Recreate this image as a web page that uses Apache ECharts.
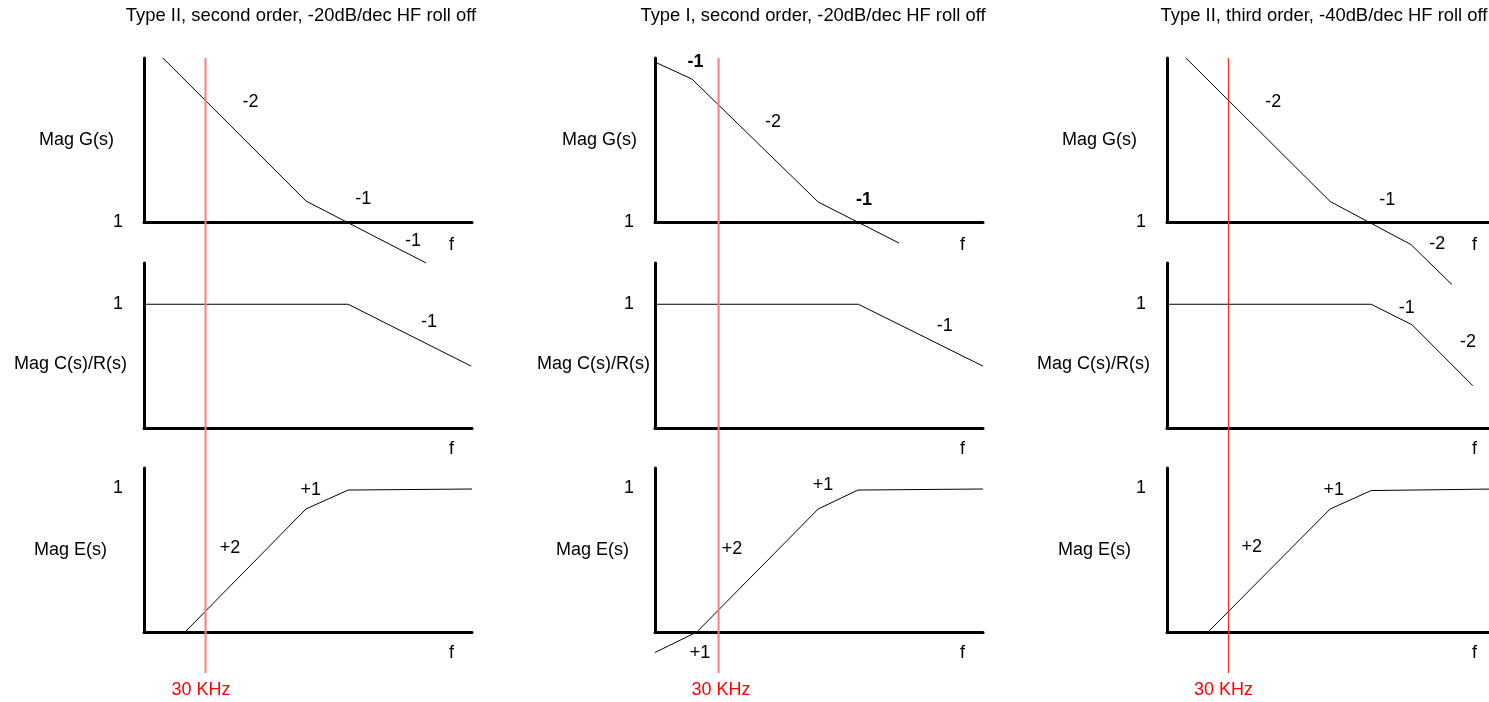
<!DOCTYPE html>
<html>
<head>
<meta charset="utf-8">
<script src="https://cdn.jsdelivr.net/npm/echarts@6/dist/echarts.min.js"></script>
<style>
  html, body { margin: 0; padding: 0; background: #fff; }
  #chart { width: 1489px; height: 702px; }
</style>
</head>
<body>
<div id="chart"></div>
<script>
// ---- data (x: log frequency in decades, y: magnitude in dB, 0 dB = "1") ----
const titles = [
  'Type II, second order, -20dB/dec HF roll off',
  'Type I, second order, -20dB/dec HF roll off',
  'Type II, third order, -40dB/dec HF roll off'
];
const titleCenters = [296, 808, 1319];
const rowNames = ['Mag G(s)', 'Mag C(s)/R(s)', 'Mag E(s)'];
const yRanges = [[0, 160], [-120, 40], [-140, 20]];
const freqRange = [0, 8];
const fTickLabel = 'f';
const fTickPos = 7.5;
const unityLabel = '1';

// open loop gain G(s)
const gLines = [
  [[0.46, 160], [3.95, 20.5], [6.88, -40]],
  [[0, 156], [0.9, 139.5], [3.98, 19.5], [5.95, -20.5]],
  [[0.46, 160], [3.98, 20], [5.95, -22], [6.95, -61]]
];
// closed loop C(s)/R(s)
const cLines = [
  [[0, 0], [4.98, 0], [7.98, -60]],
  [[0, 0], [4.96, 0], [8, -60]],
  [[0, 0], [4.98, 0], [5.98, -20], [7.46, -79]]
];
// error E(s)
const eLines = [
  [[1.0, -140], [3.95, -20], [4.98, -1.5], [8, -0.5]],
  [[0, -160], [1.02, -140], [3.98, -20], [4.95, -1.5], [8, -0.5]],
  [[1.0, -140], [3.98, -20], [4.98, -2], [8, -0.5]]
];
// slope annotations [x, y, text, bold]
const gNotes = [
  [[2.6, 117, '-2', 0], [5.35, 22, '-1', 0], [6.56, -18.5, '-1', 0]],
  [[0.99, 156.5, '-1', 1], [2.88, 97.5, '-2', 0], [5.1, 21.5, '-1', 1]],
  [[2.59, 117, '-2', 0], [5.37, 21.5, '-1', 0], [6.59, -21.5, '-2', 0]]
];
const cNotes = [
  [[6.95, -17, '-1', 0]],
  [[7.07, -21, '-1', 0]],
  [[5.85, -3.6, '-1', 0], [7.34, -37, '-2', 0]]
];
const eNotes = [
  [[4.07, -1.5, '+1', 0], [2.1, -58, '+2', 0]],
  [[4.1, 3.4, '+1', 0], [1.88, -59, '+2', 0], [1.1, -160.5, '+1', 0]],
  [[4.07, -1.5, '+1', 0], [2.07, -57, '+2', 0]]
];
// 30 KHz marker
const markerFreq = [1.5, 1.55, 1.5];
const markerText = '30 KHz';
const markerTextPos = [1.39, 1.61, 1.38];
const markerColors = ['#ff7b7b', '#ff7b7b', '#ff2b2b'];

// ---- layout ----
const FONT = '"Liberation Sans", Arial, sans-serif';
const colLeft = [144, 655, 1167];
const panelW = 328;
const rowTop = [58, 263, 468];
const rowH = [164, 165, 164];
const nameGaps = [[30, 18, 30], [17, 5, 17], [37, 26, 36]];
const nameDrop = [0, 38, 0];   // line height used to push the middle-row name down
const unityShift = [5, 9, 8];
const fMargin = [14, 12, 12];

const allLines = [gLines, cLines, eLines];
const allNotes = [gNotes, cNotes, eNotes];

const grid = [], xAxis = [], yAxis = [], series = [], title = [];

for (let c = 0; c < 3; c++) {
  title.push({
    text: titles[c], left: titleCenters[c], top: 2, textAlign: 'center',
    textStyle: { fontFamily: FONT, fontSize: 18.4, fontWeight: 'normal', color: '#000' }
  });
  for (let r = 0; r < 3; r++) {
    const gi = grid.length;
    grid.push({
      left: colLeft[c], top: rowTop[r], width: panelW, height: rowH[r],
      containLabel: false, outerBoundsMode: 'none'
    });
    xAxis.push({
      type: 'value', gridIndex: gi, min: freqRange[0], max: freqRange[1],
      axisLine: { show: true, onZero: false, lineStyle: { color: '#000', width: 3 } },
      axisTick: { show: false }, splitLine: { show: false },
      axisLabel: {
        customValues: [fTickPos], formatter: () => fTickLabel, margin: fMargin[r],
        color: '#000', fontFamily: FONT, fontSize: 18
      }
    });
    const nts = { fontFamily: FONT, fontSize: 18, color: '#000' };
    if (nameDrop[r]) { nts.verticalAlign = 'top'; nts.lineHeight = nameDrop[r]; }
    yAxis.push({
      type: 'value', gridIndex: gi, min: yRanges[r][0], max: yRanges[r][1],
      name: rowNames[r], nameLocation: 'middle', nameRotate: 0, nameGap: nameGaps[r][c],
      nameMoveOverlap: false,
      nameTextStyle: nts,
      axisLine: { show: true, onZero: false, lineStyle: { color: '#000', width: 3 } },
      axisTick: { show: false }, splitLine: { show: false },
      axisLabel: {
        customValues: [0], formatter: () => unityLabel, margin: 21,
        color: '#000', fontFamily: FONT, fontSize: 18, padding: [0, 0, unityShift[r], 0]
      }
    });
    series.push({
      type: 'line', xAxisIndex: gi, yAxisIndex: gi, data: allLines[r][c],
      symbol: 'none', clip: false, silent: true, z: 3,
      lineStyle: { color: '#000', width: 1 }
    });
    series.push({
      type: 'scatter', xAxisIndex: gi, yAxisIndex: gi, symbolSize: 0, clip: false, silent: true,
      itemStyle: { opacity: 1 },
      data: allNotes[r][c].map(n => ({
        value: [n[0], n[1]],
        label: { formatter: n[2], fontWeight: n[3] ? 'bold' : 'normal' }
      })),
      label: {
        show: true, position: 'inside', align: 'center', verticalAlign: 'middle',
        color: '#000', textBorderWidth: 0, opacity: 1, fontFamily: FONT, fontSize: 18
      }
    });
  }
  // full-height grid carrying the 30 KHz marker line
  const mi = grid.length;
  grid.push({
    left: colLeft[c], top: rowTop[0], width: panelW, height: 615,
    containLabel: false, outerBoundsMode: 'none'
  });
  xAxis.push({
    type: 'value', gridIndex: mi, min: freqRange[0], max: freqRange[1],
    axisLine: { show: false }, axisTick: { show: false }, splitLine: { show: false },
    axisLabel: {
      customValues: [markerTextPos[c]], formatter: () => markerText, margin: 8,
      color: '#ff0000', fontFamily: FONT, fontSize: 18
    }
  });
  yAxis.push({
    type: 'value', gridIndex: mi, min: 0, max: 1, show: false
  });
  series.push({
    type: 'line', xAxisIndex: mi, yAxisIndex: mi, symbol: 'none', silent: true, z: 4,
    data: [[markerFreq[c], 0], [markerFreq[c], 1]],
    lineStyle: { color: markerColors[c], width: c === 2 ? 1.3 : 2 }
  });
}

const chart = echarts.init(document.getElementById('chart'), null, { renderer: 'canvas' });
chart.setOption({
  animation: false,
  backgroundColor: '#ffffff',
  title, grid, xAxis, yAxis, series
});
</script>
</body>
</html>
